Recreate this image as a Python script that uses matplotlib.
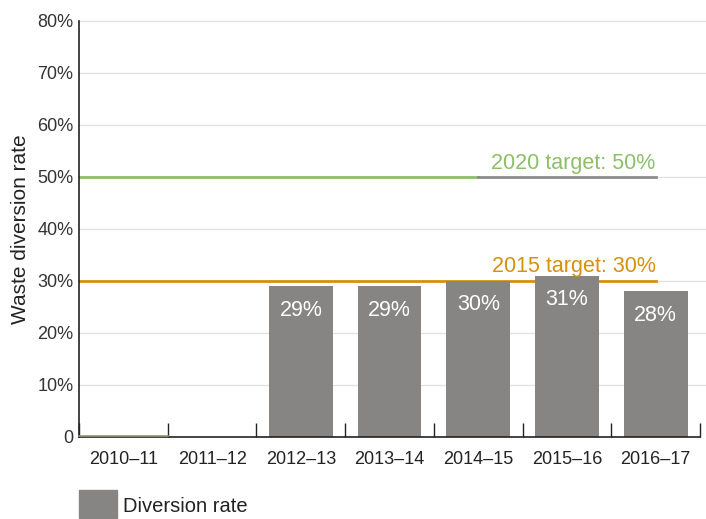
import numpy as np
import matplotlib.pyplot as plt
from matplotlib.patches import Rectangle

plt.rcParams['font.family'] = ['Liberation Sans', 'DejaVu Sans']

years = ['2010–11', '2011–12', '2012–13', '2013–14', '2014–15', '2015–16', '2016–17']
rates = [0, 0, 29, 29, 30, 31, 28]
target_2015 = 30
target_2020 = 50
yticks = [0, 10, 20, 30, 40, 50, 60, 70, 80]

bar_col = '#878583'
green = '#8dbf68'
orange = '#d8900c'
txt = '#222222'

fig = plt.figure(figsize=(7.06, 5.19), dpi=100)
ax = fig.add_axes([0.112, 0.158, 0.8795, 0.802])

x = np.arange(len(years))
ax.set_xlim(-0.5, len(years) - 0.5)
ax.set_ylim(0, 80)

for yv in yticks[1:]:
    ax.axhline(yv, xmax=1.01, color='#e2e2e2', lw=1, zorder=0, clip_on=False)

# targets (drawn under the bars)
ax.plot([-0.5, 6], [target_2015, target_2015], color=orange, lw=2, zorder=1)
ax.plot([-0.5, 4], [target_2020, target_2020], color=green, lw=2, zorder=1)
ax.plot([4, 6], [target_2020, target_2020], color='#8c8c8c', lw=2, zorder=1)
ax.text(6, target_2015 + 0.7, f'2015 target: {target_2015}%', ha='right', va='bottom',
        color=orange, fontsize=15.5)
ax.text(6, target_2020 + 0.6, f'2020 target: {target_2020}%', ha='right', va='bottom',
        color=green, fontsize=15.5)

ax.bar(x, rates, width=0.72, color=bar_col, zorder=2)
for xi, r in zip(x, rates):
    if r > 0:
        ax.text(xi, r - 4.6, f'{r}%', ha='center', va='center', color='white',
                fontsize=15.5, zorder=3)

# faint line along zero in first category
ax.plot([-0.5, 0.5], [0.15, 0.15], color='#8a9870', lw=1.2, zorder=3, clip_on=False)

ax.set_yticks(yticks)
ax.set_yticklabels(['0'] + [f'{v}%' for v in yticks[1:]])
ax.set_xticks(x)
ax.set_xticklabels(years)
ax.set_xticks(np.arange(len(years) + 1) - 0.5, minor=True)
ax.tick_params(axis='x', which='major', length=0, pad=10, labelsize=13, colors=txt)
ax.tick_params(axis='x', which='minor', length=10, direction='in', width=1, color=txt)
ax.tick_params(axis='y', length=0, pad=4, labelsize=13, colors='#333333')

for s in ['top', 'right']:
    ax.spines[s].set_visible(False)
for s in ['left', 'bottom']:
    ax.spines[s].set_color(txt)
    ax.spines[s].set_linewidth(1.2)

ax.set_ylabel('Waste diversion rate', fontsize=15, color=txt, labelpad=5)

# legend
fig.add_artist(Rectangle((79 / 706, 1 - 518 / 519), 38 / 706, 28 / 519,
                         transform=fig.transFigure, color=bar_col))
fig.text(123 / 706, 1 - 506 / 519, 'Diversion rate', fontsize=14.5, color=txt,
         va='center', ha='left')

fig.savefig('out.png', dpi=100)
